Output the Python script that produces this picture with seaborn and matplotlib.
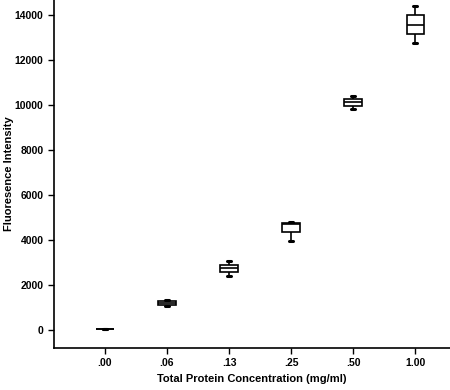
import numpy as np
import pandas as pd
import matplotlib
matplotlib.use('Agg')
import matplotlib.pyplot as plt
import seaborn as sns

# concentration groups (mg/ml) as labelled on the axis
concentrations = ['.00', '.06', '.13', '.25', '.50', '1.00']

# five-number summaries: low whisker, Q1, median, Q3, high whisker
conc_00 = [40, 45, 50, 55, 60]
conc_06 = [1070, 1120, 1200, 1300, 1340]
conc_13 = [2400, 2590, 2740, 2900, 3080]
conc_25 = [3950, 4350, 4720, 4760, 4800]
conc_50 = [9830, 9950, 10120, 10280, 10420]
conc_100 = [12750, 13140, 13570, 14020, 14400]

y_ticks = [0, 2000, 4000, 6000, 8000, 10000, 12000, 14000]

groups = [conc_00, conc_06, conc_13, conc_25, conc_50, conc_100]
df = pd.DataFrame({
    'conc': np.repeat(concentrations, [len(g) for g in groups]),
    'intensity': np.concatenate(groups),
})

sns.set_style('white')
plt.rcParams['font.family'] = ['Liberation Sans', 'DejaVu Sans']
plt.rcParams['font.weight'] = 'bold'
plt.rcParams['axes.labelcolor'] = 'black'

fig = plt.figure(figsize=(4.5, 3.9), dpi=100)
ax = fig.add_axes([0.12, 0.108, 0.88, 0.892])

sns.boxplot(x='conc', y='intensity', data=df, order=concentrations, ax=ax,
            width=0.28, whis=(0, 100), color='white', linecolor='black',
            linewidth=1.2, showfliers=False)

# short stubby caps like the original
for cont in ax.containers:
    for cap in cont.caps:
        xs = cap.get_xdata()
        mid = (xs[0] + xs[1]) / 2
        cap.set_xdata([mid - 0.03, mid + 0.03])
        cap.set_linewidth(2.2)

ax.set_xlim(-0.82, 5.56)
ax.set_ylim(-800, 14670)
ax.set_yticks(y_ticks)
ax.set_yticklabels([str(t) for t in y_ticks])
ax.set_xlabel('Total Protein Concentration (mg/ml)', fontsize=8, fontweight='bold', color='black')
ax.set_ylabel('Fluoresence Intensity', fontsize=8, fontweight='bold', color='black')
ax.yaxis.set_label_coords(-0.102, 0.5)
ax.tick_params(axis='both', which='both', direction='out', length=4, width=1,
               labelsize=7.5, colors='black', left=True, bottom=True)
for lab in ax.get_xticklabels() + ax.get_yticklabels():
    lab.set_fontweight('bold')

sns.despine(ax=ax)
for s in ['left', 'bottom']:
    ax.spines[s].set_color('black')
    ax.spines[s].set_linewidth(1.2)

fig.savefig('out.png', dpi=100)
